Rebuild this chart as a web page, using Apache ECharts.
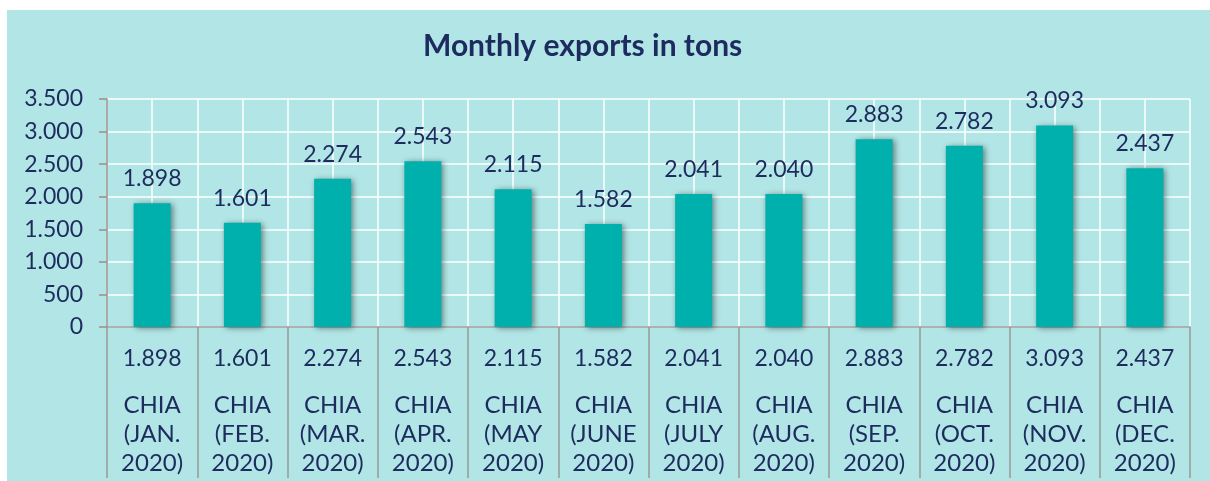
<!DOCTYPE html>
<html>
<head>
<meta charset="utf-8">
<script src="https://cdn.jsdelivr.net/npm/echarts@6/dist/echarts.min.js"></script>
<style>
  html, body { margin: 0; padding: 0; background: #fff; }
  #chart { position: absolute; left: 7px; top: 10px; width: 1203px; height: 471px; }
</style>
</head>
<body>
<div id="chart"></div>
<script>
const months = ["JAN.", "FEB.", "MAR.", "APR.", "MAY", "JUNE", "JULY", "AUG.", "SEP.", "OCT.", "NOV.", "DEC."]
const categories = months.map(m => "CHIA (" + m + " 2020)")
const exportsTons = [1898, 1601, 2274, 2543, 2115, 1582, 2041, 2040, 2883, 2782, 3093, 2437]
const yTicks = [0, 500, 1000, 1500, 2000, 2500, 3000, 3500]

const navy = "#1d2b5e"
const font = "'Century Gothic', Lato, sans-serif"

// 1898 -> "1.898"
const fmt = v => String(v).replace(/\B(?=(\d{3})+(?!\d))/g, ".")

const chart = echarts.init(document.getElementById("chart"))
chart.setOption({
  backgroundColor: "#b2e6e6",
  animation: false,
  textStyle: {fontFamily: font},
  title: {
    text: "Monthly exports in tons",
    left: 411,
    top: 16,
    textStyle: {color: navy, fontSize: 30, fontWeight: "bold", fontFamily: font}
  },
  grid: {left: 100, right: 20, top: 89, bottom: 154},
  xAxis: [
    {
      type: "category",
      data: categories,
      axisLine: {lineStyle: {color: "#999", width: 1.5}},
      axisTick: {show: true, interval: 0, length: 151, lineStyle: {color: "#999", width: 1.5}},
      splitLine: {show: false},
      axisLabel: {
        interval: 0,
        margin: 0,
        formatter(val, i) {
          const parts = val.split(" ")
          return "{v|" + fmt(exportsTons[i]) + "}\n{c|" + parts[0] + "}\n{c|" + parts[1] + "}\n{c|" + parts[2] + "}"
        },
        rich: {
          v: {fontSize: 23, color: navy, lineHeight: 64, fontFamily: font},
          c: {fontSize: 24, color: navy, lineHeight: 29, fontFamily: font}
        }
      }
    },
    {
      // half-category white grid lines
      type: "value",
      min: 0,
      max: 24,
      interval: 1,
      show: true,
      axisLine: {show: false},
      axisTick: {show: false},
      axisLabel: {show: false},
      splitLine: {show: true, lineStyle: {color: "#fff", width: 1.5}}
    }
  ],
  yAxis: {
    type: "value",
    min: yTicks[0],
    max: yTicks[yTicks.length - 1],
    interval: 500,
    axisLine: {show: true, lineStyle: {color: "#9a8e8e", width: 1.5}},
    axisTick: {show: true, length: 8, lineStyle: {color: "#9a8e8e", width: 1.5}},
    axisLabel: {
      margin: 24,
      color: navy,
      fontSize: 23,
      fontFamily: font,
      formatter: v => fmt(v)
    },
    splitLine: {show: true, lineStyle: {color: "#fff", width: 1.5}}
  },
  series: [
    {
      type: "bar",
      data: exportsTons,
      xAxisIndex: 0,
      barWidth: 37,
      itemStyle: {
        color: "#00b0ac",
        shadowColor: "rgba(0,0,0,0.45)",
        shadowBlur: 6,
        shadowOffsetX: 2,
        shadowOffsetY: 1
      },
      label: {
        show: true,
        position: "top",
        distance: 13,
        color: navy,
        fontSize: 23,
        fontFamily: font,
        formatter: p => fmt(p.value)
      }
    }
  ]
})
</script>
</body>
</html>
